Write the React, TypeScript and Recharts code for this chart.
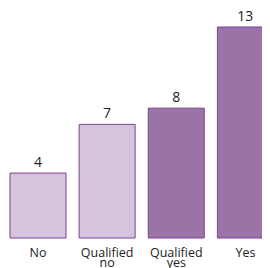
import { BarChart, Bar, XAxis, YAxis, Cell, LabelList } from 'recharts';

const categories = ['No', 'Qualified no', 'Qualified yes', 'Yes'];
const counts = [4, 7, 8, 13];
const fills = ['#d5c5dc', '#d5c5dc', '#9b74a7', '#9b74a7'];

const data = categories.map((name, i) => ({ name, value: counts[i] }));

const WrappedTick = (props: any) => {
  const { x, y, payload } = props;
  const words = String(payload.value).split(' ');
  return (
    <text x={x} y={y} textAnchor="middle" fontSize={12.5} fill="#222" fontFamily="'Open Sans', sans-serif">
      {words.map((w, i) => (
        <tspan key={i} x={x} dy={i === 0 ? 11 : 10}>
          {w}
        </tspan>
      ))}
    </text>
  );
};

export default function App() {
  return (
    <div style={{ marginLeft: -8, marginTop: -8, width: 270, height: 268, overflow: 'hidden' }}>
      <BarChart
        width={282}
        height={272}
        data={data}
        margin={{ top: 27, right: 2, left: 3.5, bottom: 0 }}
        barCategoryGap={6.5}
      >
        <YAxis hide domain={[0, 13]} />
        <XAxis dataKey="name" axisLine={false} tickLine={false} interval={0} height={34} tick={<WrappedTick />} />
        <Bar dataKey="value" stroke="#7e3f92" strokeWidth={1} isAnimationActive={false}>
          {data.map((d, i) => (
            <Cell key={d.name} fill={fills[i]} />
          ))}
          <LabelList
            dataKey="value"
            position="top"
            offset={6}
            fill="#222"
            fontSize={14}
            fontFamily="'Open Sans', sans-serif"
          />
        </Bar>
      </BarChart>
    </div>
  );
}
